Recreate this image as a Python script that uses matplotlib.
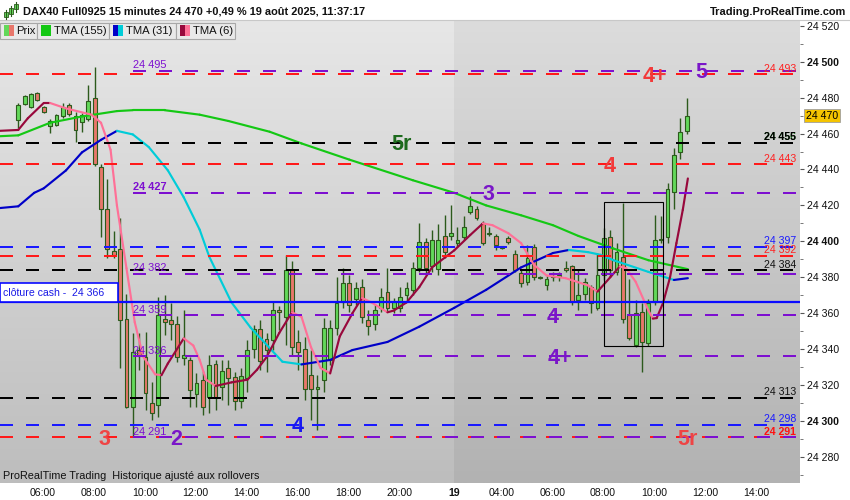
import numpy as np
import matplotlib
matplotlib.use("Agg")
import matplotlib.pyplot as plt
from matplotlib.patches import Rectangle
from matplotlib.collections import LineCollection
import matplotlib.transforms as mtrans
from matplotlib import font_manager as fm

plt.rcParams['font.family'] = ['Liberation Sans', 'DejaVu Sans']

# ---------------- data ----------------
# 15-minute bars: 18 Aug 05:00-21:45 (68 bars), then 19 Aug 02:00-11:15 (38 bars)
day18_first_bar = 5.0     # 05:00
bars_day18 = 68
day19_first_bar = 2.0     # 02:00
bars_day19 = 38

opens = [24467.5, 24476.5, 24475.0, 24482.5, 24475.0, 24464.0, 24464.5, 24469.5, 24476.0, 24470.0,
         24466.5, 24468.0, 24480.0, 24441.5, 24418.0, 24394.5, 24395.5, 24357.0, 24308.0, 24339.5,
         24335.5, 24310.0, 24309.0, 24357.0, 24356.0, 24354.0, 24335.0, 24334.0, 24315.0, 24323.0,
         24313.5, 24331.5, 24319.0, 24329.5, 24324.5, 24311.0, 24324.0, 24340.0, 24351.0, 24345.5,
         24345.0, 24362.0, 24358.0, 24384.0, 24344.0, 24340.0, 24325.5, 24318.0, 24323.0, 24334.0,
         24352.0, 24366.0, 24377.0, 24368.0, 24374.5, 24356.0, 24354.0, 24363.0, 24372.0, 24363.0,
         24363.0, 24370.0, 24373.0, 24385.0, 24399.5, 24386.5, 24384.5, 24403.0, 24403.0, 24399.0,
         24402.5, 24416.5, 24418.0, 24410.0, 24404.0, 24403.0, 24396.5, 24402.0, 24393.0, 24382.5,
         24377.5, 24397.0, 24379.5, 24375.5, 24380.0, 24380.0, 24385.0, 24386.5, 24367.5, 24370.5,
         24374.5, 24363.0, 24381.5, 24402.5, 24383.0, 24391.5, 24359.0, 24342.5, 24360.5, 24343.5,
         24366.0, 24400.5, 24402.5, 24427.5, 24449.5, 24461.5]
highs = [24477.0, 24481.5, 24482.5, 24483.0, 24475.5, 24468.0, 24471.0, 24477.0, 24477.0, 24472.0,
         24471.5, 24487.0, 24497.0, 24443.0, 24434.5, 24405.5, 24413.0, 24370.5, 24349.0, 24349.0,
         24349.5, 24321.5, 24369.0, 24370.0, 24365.5, 24358.5, 24362.0, 24335.5, 24326.5, 24328.0,
         24336.5, 24334.0, 24334.0, 24334.0, 24327.5, 24329.5, 24345.0, 24353.5, 24356.0, 24349.0,
         24366.0, 24364.0, 24392.5, 24389.0, 24350.5, 24347.0, 24339.5, 24325.5, 24357.5, 24356.0,
         24380.0, 24385.0, 24381.5, 24377.5, 24379.0, 24362.0, 24364.5, 24374.0, 24385.0, 24368.5,
         24374.5, 24377.5, 24388.5, 24410.0, 24402.0, 24406.5, 24409.5, 24414.5, 24420.0, 24408.0,
         24414.0, 24425.0, 24419.5, 24411.5, 24408.0, 24404.0, 24397.5, 24403.0, 24395.0, 24384.0,
         24398.0, 24398.5, 24380.5, 24380.5, 24383.0, 24383.0, 24389.0, 24387.0, 24384.0, 24379.5,
         24375.5, 24393.5, 24407.5, 24406.5, 24399.0, 24421.5, 24379.0, 24367.5, 24365.5, 24368.0,
         24414.5, 24414.0, 24432.5, 24452.0, 24468.5, 24480.0]
lows = [24463.0, 24476.0, 24474.0, 24478.0, 24471.5, 24460.5, 24464.0, 24468.5, 24470.0, 24455.5,
        24461.0, 24467.0, 24442.0, 24402.5, 24390.5, 24390.5, 24329.5, 24307.0, 24291.0, 24328.5,
        24306.0, 24300.5, 24302.0, 24348.0, 24345.0, 24333.0, 24331.0, 24308.0, 24308.0, 24303.5,
        24304.5, 24306.0, 24311.5, 24309.0, 24306.0, 24307.0, 24316.0, 24335.0, 24328.5, 24327.5,
        24339.5, 24350.5, 24342.5, 24336.0, 24328.5, 24311.5, 24300.5, 24295.0, 24316.0, 24331.0,
        24348.0, 24363.0, 24360.5, 24364.5, 24354.5, 24348.0, 24350.5, 24360.5, 24360.5, 24360.0,
        24360.5, 24367.5, 24370.0, 24383.0, 24381.5, 24383.0, 24381.5, 24390.5, 24400.5, 24397.0,
        24400.5, 24415.0, 24412.0, 24398.0, 24403.0, 24395.0, 24395.5, 24398.5, 24383.0, 24374.5,
        24375.5, 24378.5, 24379.0, 24373.0, 24378.0, 24378.0, 24383.0, 24364.5, 24362.0, 24367.5,
        24360.0, 24362.0, 24378.5, 24380.0, 24381.5, 24354.5, 24345.0, 24341.0, 24327.5, 24342.0,
        24364.5, 24399.0, 24399.0, 24418.0, 24446.0, 24459.5]
closes = [24476.0, 24481.0, 24482.0, 24478.5, 24472.0, 24467.0, 24470.5, 24475.0, 24471.0, 24462.0,
          24470.5, 24478.0, 24443.0, 24418.0, 24395.5, 24392.5, 24356.0, 24308.0, 24338.5, 24336.0,
          24315.5, 24304.5, 24359.0, 24355.0, 24354.0, 24335.5, 24336.5, 24317.5, 24321.0, 24308.0,
          24331.0, 24313.5, 24328.0, 24324.0, 24311.0, 24325.0, 24339.5, 24351.0, 24333.5, 24339.5,
          24362.0, 24360.5, 24384.0, 24341.0, 24338.5, 24318.0, 24318.0, 24319.0, 24352.0, 24352.0,
          24365.5, 24377.0, 24364.5, 24374.0, 24358.0, 24353.0, 24362.0, 24369.0, 24363.0, 24366.0,
          24369.0, 24374.0, 24385.0, 24399.5, 24385.0, 24400.5, 24400.5, 24394.0, 24404.5, 24400.5,
          24408.0, 24419.5, 24413.0, 24399.0, 24404.5, 24398.0, 24397.0, 24399.5, 24384.0, 24377.0,
          24390.5, 24380.0, 24380.0, 24379.0, 24380.5, 24381.0, 24384.0, 24366.0, 24370.0, 24377.5,
          24365.5, 24381.5, 24402.0, 24384.0, 24394.0, 24357.0, 24346.0, 24360.0, 24344.0, 24365.5,
          24400.5, 24401.0, 24429.0, 24448.0, 24461.0, 24470.0]

# Moving averages, read at bar positions (bar index, may be fractional)
tma155_at = [-3, 0, 5, 10, 15.5, 18, 23, 28.5, 33, 39.5, 44.5, 52, 62, 68.5, 73.5, 79, 84, 88,
             93.5, 99, 105.2]
tma155 = [24458.5, 24459.0, 24466.0, 24469.5, 24472.5, 24473.0, 24473.0, 24470.5, 24467.0, 24461.0,
          24454.5, 24445.5, 24434.0, 24427.0, 24420.0, 24414.5, 24409.0, 24403.0, 24396.0, 24389.5,
          24384.5]
tma31_at = [-3, 0, 2.5, 4, 7.5, 10, 13, 15.5, 18, 20.5, 23.5, 26, 28.5, 30, 33.5, 36.5, 41.5, 44.5,
            49, 52.5, 58, 63, 68.5, 73.5, 79, 84, 86.5, 89.5, 91.5, 93.5, 99, 103, 105.2]
tma31 = [24418.5, 24419.5, 24427.0, 24429.5, 24439.5, 24449.5, 24456.5, 24461.5, 24459.5, 24452.5,
         24439.5, 24424.5, 24406.5, 24391.5, 24366.0, 24352.0, 24333.0, 24331.5, 24334.0, 24339.5,
         24344.0, 24352.5, 24363.0, 24373.0, 24385.5, 24393.5, 24395.2, 24394.0, 24392.5, 24389.5,
         24383.0, 24378.5, 24379.5]
tma6_at = [-3, 0, 1.5, 4, 5, 7.5, 11.5, 13, 14.5, 15.5, 17, 18.3, 19.6, 21.5, 22.5, 23.5, 26, 27.5,
           28.5, 29.5, 31, 33.5, 36, 37.5, 39, 41, 43, 44.5, 46, 47.5, 49, 50.5, 52.5, 54, 55.5, 58,
           59, 61, 63, 65, 68.5, 71, 73, 74.5, 77, 79, 81, 83, 86, 89.5, 91, 93, 94.5, 95.5, 97, 99,
           99.7, 100.3, 101.3, 102.4, 103.4, 104.4, 105.2]
tma6 = [24461.5, 24462.0, 24468.5, 24477.0, 24477.0, 24474.0, 24470.5, 24466.0, 24451.0, 24420.0,
        24385.0, 24355.0, 24336.0, 24326.0, 24325.5, 24332.0, 24346.0, 24342.0, 24334.0, 24323.0,
        24319.5, 24321.5, 24323.0, 24328.5, 24335.5, 24349.0, 24360.5, 24358.0, 24341.0, 24329.5,
        24326.5, 24347.0, 24360.0, 24368.5, 24366.0, 24360.5, 24361.5, 24366.0, 24374.5, 24385.5,
        24395.0, 24403.5, 24410.0, 24409.0, 24404.5, 24399.0, 24387.0, 24381.0, 24379.5, 24375.5,
        24372.0, 24380.0, 24386.0, 24385.0, 24377.5, 24361.5, 24357.0, 24357.3, 24365.7, 24380.0,
        24399.0, 24417.5, 24435.0]

levels_red = [24493, 24443, 24392, 24291]
levels_black = [24455, 24384, 24313]
levels_blue = [24397, 24298]
levels_purple = [24495, 24427, 24382, 24359, 24336, 24291]
purple_from = "18 09:32"
cash_close = 24366
last_price = 24470

wave_texts = ["4+", "5", "5r", "4", "3", "4", "4+", "3", "2", "4", "5r"]
wave_times = ["19 10:02", "19 11:51", "18 20:04", "19 08:16", "19 03:31", "19 06:02",
              "19 06:19", "18 08:26", "18 11:14", "18 15:59", "19 11:18"]
wave_prices = [24493, 24495, 24455, 24443, 24427, 24359, 24336, 24291, 24291, 24298, 24291]
wave_colors = ["#f23a3a", "#7a16c8", "#1d6b1d", "#f23a3a", "#7a16c8", "#7a16c8",
               "#7a16c8", "#ef4545", "#7a16c8", "#1818f0", "#ee4444"]

zone_times = ("19 08:03", "19 10:21")
zone_prices = (24342, 24422)

ticks_day18 = ["06:00", "08:00", "10:00", "12:00", "14:00", "16:00", "18:00", "20:00"]
ticks_day19 = ["04:00", "06:00", "08:00", "10:00", "12:00", "14:00"]


# ---------------- helpers ----------------
def hours(hhmm):
    h, m = hhmm.split(":")
    return int(h) + int(m) / 60.0

def t_of(stamp):
    """compressed time axis: the 22:00-02:00 night gap is removed"""
    day, hhmm = stamp.split()
    h = hours(hhmm)
    return h if day == "18" else h + 20.0

BAR_OFF = 0.03
def t_of_bar(i):
    return day18_first_bar + 0.25 * np.asarray(i, dtype=float) + BAR_OFF

def fmt(v):
    return f"{int(round(v)):,}".replace(",", " ")

W, H = 850, 500
def F(px, py):
    return (px / W, 1 - py / H)

fig = plt.figure(figsize=(8.5, 5), dpi=100, facecolor="white")
ax = fig.add_axes([0, 17 / H, 800 / W, 463 / H])
X0, X1 = 4.3126, 35.734
Y0, Y1 = 24265.5, 24523.2
ax.set_xlim(X0, X1)
ax.set_ylim(Y0, Y1)

# background gradient, darker for 19 Aug session
t_split = 22.16
def grad(top, bot):
    top = np.array(matplotlib.colors.to_rgb(top)); bot = np.array(matplotlib.colors.to_rgb(bot))
    f = np.linspace(0, 1, 256)[:, None]
    return (top * (1 - f) + bot * f)[:, None, :]
ax.imshow(grad("#e7e7e7", "#bdbdbd"), extent=[X0, t_split, Y0, Y1], aspect="auto",
          origin="upper", interpolation="bilinear", zorder=0)
ax.imshow(grad("#dcdcdc", "#b2b2b2"), extent=[t_split, X1, Y0, Y1], aspect="auto",
          origin="upper", interpolation="bilinear", zorder=0)
ax.set_xlim(X0, X1)
ax.set_ylim(Y0, Y1)

# candles
xb = t_of_bar(np.arange(len(opens)))
o = np.array(opens); hi = np.array(highs); lo = np.array(lows); c = np.array(closes)
edge = "#2c5a1c"
ax.vlines(xb, lo, hi, color=edge, lw=1.0, zorder=2)
body_lo = np.minimum(o, c)
body_h = np.maximum(np.abs(c - o), 0.7)
cols = np.where(c >= o, "#63d85a", "#e8776b")
ax.bar(xb, body_h, bottom=body_lo, width=0.15, color=cols, edgecolor=edge, linewidth=0.8, zorder=2.1)

# moving averages
def ma(idx, vals, up, down, lw=1.55):
    x = t_of_bar(idx); y = np.asarray(vals, dtype=float)
    segs = [[(x[k], y[k]), (x[k + 1], y[k + 1])] for k in range(len(x) - 1)]
    colors = [up if y[k + 1] >= y[k] else down for k in range(len(x) - 1)]
    ax.add_collection(LineCollection(segs, colors=colors, linewidths=lw, capstyle="round",
                                     joinstyle="round", zorder=3))
ma(tma155_at, tma155, "#14c814", "#14c814")
ma(tma31_at, tma31, "#0000c8", "#00ccd8")
ma(tma6_at, tma6, "#98083c", "#ff7097")

# level lines
dash = (0, (6.5, 6.5))
LW = 1.44
for v in levels_red:
    ax.plot([X0, X1], [v, v], color="#ff1a1a", lw=LW, ls=dash, zorder=4)
for v in levels_black:
    ax.plot([X0, X1], [v, v], color="#000000", lw=LW, ls=dash, zorder=4)
for v in levels_blue:
    ax.plot([X0, X1], [v, v], color="#1a1aff", lw=LW, ls=dash, zorder=4)
tp = t_of(purple_from)
for v in levels_purple:
    ax.plot([tp, X1], [v, v], color="#7d0fd0", lw=LW, ls=dash, zorder=4.1)
ax.plot([X0, X1], [cash_close, cash_close], color="#0a0aff", lw=1.6, zorder=4.2)

bl = mtrans.blended_transform_factory(ax.transAxes, ax.transData)

# cash close box
ax.add_patch(Rectangle((0.0, cash_close), 118 / 800, 10.6, transform=bl, facecolor="white",
                       edgecolor="#0a0aff", lw=1.2, zorder=5, clip_on=False))
ax.text(3 / 800, cash_close + 5.3, "clôture cash -  " + fmt(cash_close), transform=bl,
        fontsize=7.6, color="#1a1ae6", va="center", ha="left", zorder=6)

# level value labels on the right
right_labels = [(24493, "#ff2020", "normal"), (24456, "#2a7a2a", "bold"), (24455, "#000000", "bold"),
                (24443, "#ff2020", "normal"), (24397, "#1a1aff", "normal"),
                (24392, "#ff2020", "normal"), (24384, "#111111", "normal"),
                (24313, "#111111", "normal"), (24298, "#1a1aff", "normal"),
                (24291, "#ff1010", "bold")]
for v, col, wt in right_labels:
    lvl = 24455 if v == 24456 else v
    ax.annotate(fmt(v), xy=(796 / 800, lvl), xycoords=bl, xytext=(0, 1.8),
                textcoords="offset points", ha="right", va="baseline", fontsize=7.6,
                color=col, fontweight=wt, zorder=6)
# purple labels on the left
for v in levels_purple:
    ax.annotate(fmt(v), xy=(133 / 800, v), xycoords=bl, xytext=(0, 1.8),
                textcoords="offset points", ha="left", va="baseline", fontsize=7.9,
                color="#7d0fd0", fontweight="bold" if v == 24427 else "normal", zorder=6)

# wave labels
for txt, tm, pr, col in zip(wave_texts, wave_times, wave_prices, wave_colors):
    ax.annotate(txt, xy=(t_of(tm), pr), xytext=(0, -5.5), textcoords="offset points",
                ha="center", va="baseline", fontsize=15.5, fontweight="bold", color=col, zorder=7)

# zone rectangle
zt0, zt1 = t_of(zone_times[0]), t_of(zone_times[1])
ax.add_patch(Rectangle((zt0, zone_prices[0]), zt1 - zt0, zone_prices[1] - zone_prices[0],
                       fill=False, edgecolor="black", lw=0.8, zorder=5))

# axes styling
for s in ax.spines.values():
    s.set_visible(False)
ax.yaxis.tick_right()
yt = list(range(24280, 24521, 20))
ax.set_yticks(yt, [fmt(v) for v in yt])
ax.set_yticks(list(range(24270, 24521, 10)), minor=True)
ax.tick_params(axis="y", which="major", length=3, width=0.8, color="#555555", pad=2.2,
               labelsize=7.6, labelcolor="#111111")
ax.tick_params(axis="y", which="minor", length=2, width=0.7, color="#777777")
for lab in ax.get_yticklabels():
    if lab.get_text() in ("24 500", "24 400", "24 300"):
        lab.set_fontweight("bold")

xt = [t_of("18 " + s) for s in ticks_day18] + [22.16] + [t_of("19 " + s) for s in ticks_day19]
xl = ticks_day18 + ["19"] + ticks_day19
ax.set_xticks(xt, xl)
ax.tick_params(axis="x", length=0, pad=3.5, labelsize=7.6, labelcolor="#111111")
for lab in ax.get_xticklabels():
    if lab.get_text() == "19":
        lab.set_fontweight("bold")

# last price box
ax.text(1 + 6 / 800, last_price, fmt(last_price), transform=bl, fontsize=7.6, va="center",
        ha="left", color="black", zorder=8, clip_on=False,
        bbox=dict(boxstyle="square,pad=0.18", facecolor="#f5c400", edgecolor="#a0a0a0", lw=0.6))

# ---------------- header & legend ----------------
fig.add_artist(plt.Line2D([0, 1], [1 - 20 / H, 1 - 20 / H], transform=fig.transFigure,
                          color="#c8c8c8", lw=0.8))
# icon
for (cx, y0, y1, w0, w1) in [(6, 12, 17, 10, 19), (11, 8, 14, 6, 16), (16, 4, 9, 2, 12)]:
    fig.add_artist(plt.Line2D([cx / W, cx / W], [1 - w1 / H, 1 - w0 / H], transform=fig.transFigure,
                              color="#2c5a1c", lw=0.8))
    fig.add_artist(Rectangle(F(cx - 2, y1), 4 / W, (y1 - y0) / H, transform=fig.transFigure,
                             facecolor="#63d85a", edgecolor="#2c5a1c", lw=0.6))

def fit(t, target):
    r = fig.canvas.get_renderer()
    w = t.get_window_extent(r).width
    t.set_fontsize(t.get_fontsize() * target / w)

fig.canvas.draw()
hdr = fig.text(*F(23, 11), "DAX40 Full0925 15 minutes 24 470 +0,49 % 19 août 2025, 11:37:17",
               fontsize=8.5, fontweight="bold", va="center", ha="left", color="#111111")
fit(hdr, 340)
site = fig.text(*F(846, 12), "Trading.ProRealTime.com", fontsize=8.5, fontweight="bold",
                va="center", ha="right", color="#111111")
fit(site, 135)

# legend row
legend_boxes = [(0, 37, "Prix", ["#63d85a", "#e8776b"]),
                (37, 109, "TMA (155)", ["#14c814", "#14c814"]),
                (109, 176, "TMA (31)", ["#0000c8", "#00ccd8"]),
                (176, 235, "TMA (6)", ["#98083c", "#ff7097"])]
for x0, x1, name, sw in legend_boxes:
    fig.add_artist(Rectangle(F(x0, 39), (x1 - x0) / W, 16 / H, transform=fig.transFigure,
                             facecolor="#e9e9e9", edgecolor="#a8a8a8", lw=0.8))
    for k, col in enumerate(sw):
        fig.add_artist(Rectangle(F(x0 + 4 + 5 * k, 36), 5 / W, 11 / H, transform=fig.transFigure,
                                 facecolor=col, edgecolor="none"))
    fig.text(*F(x0 + 17 if name != "Prix" else 16, 31), name, fontsize=8.1, va="center",
             ha="left", color="#111111")

# footer text
fams = {f.name for f in fm.fontManager.ttflist}
ffam = ["Liberation Sans Narrow"] if "Liberation Sans Narrow" in fams else ["Liberation Sans"]
foot = fig.text(*F(3, 476), "ProRealTime Trading  Historique ajusté aux rollovers",
                fontsize=7.5, family=ffam, va="center", ha="left", color="#111111")
fig.canvas.draw()
fit(foot, 254)

fig.savefig("out.png", dpi=100, facecolor="white")
